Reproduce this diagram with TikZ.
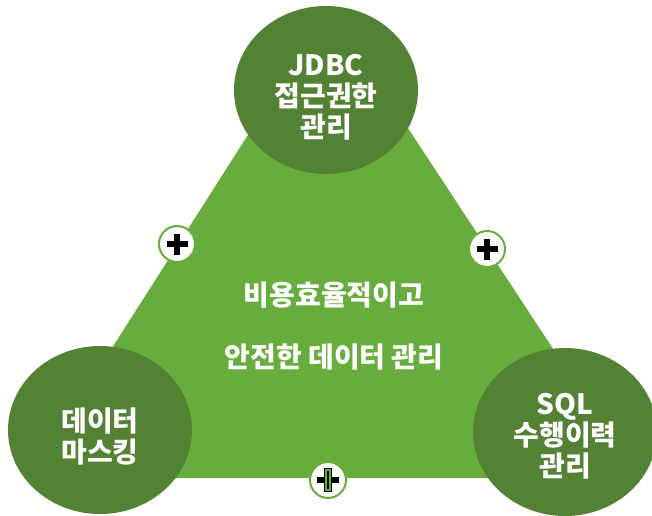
\documentclass[tikz,border=0pt]{standalone}
\usepackage{fontspec}
\setmainfont{Noto Sans CJK KR}
\usepackage{tikz}
\usetikzlibrary{shapes.geometric, positioning, calc}

\definecolor{trigreen}{HTML}{67AD3D}
\definecolor{darkgreen}{HTML}{548235}

\begin{document}
\begin{tikzpicture}[x=1pt,y=-1pt,
    bubble/.style={ellipse,fill=darkgreen,minimum width=184pt,minimum height=168pt,inner sep=0pt},
    bubbletext/.style={text=white,align=center,font=\bfseries\fontsize{28}{31}\selectfont},
    plusring/.style={circle,draw=trigreen,line width=2pt,fill=white,minimum size=36pt,inner sep=0pt},
    plusbar/.style={line width=5.5pt,black}]
    \useasboundingbox (0,0) rectangle (652,515);
    % triangle
    \fill[trigreen] (329,8) -- (638,478) -- (29,478) -- cycle;
    \node[bubbletext] (goal1) at (334,295) {비용효율적이고};
    \node[bubbletext] (goal2) at (334,357) {안전한 데이터 관리};
    % three circles
    \node[bubble] (jdbc) at (326,90) {};
    \node[bubbletext] (jdbctext) at (326,97) {JDBC\\접근권한\\관리};
    \node[bubble] (mask) at (100,430) {};
    \node[bubbletext] (masktext) at (100,437) {데이터\\마스킹};
    \node[bubble] (sql) at (565,432) {};
    \node[bubbletext] (sqltext) at (565,436) {SQL\\수행이력\\관리};
    % plus marks
    \node[plusring] (plusL) at (177,244) {};
    \draw[plusbar] ([xshift=-10.5pt]plusL.center) -- ([xshift=10.5pt]plusL.center);
    \draw[plusbar] ([yshift=-10.5pt]plusL.center) -- ([yshift=10.5pt]plusL.center);
    \node[plusring] (plusR) at (487,249) {};
    \draw[plusbar] ([xshift=-10.5pt]plusR.center) -- ([xshift=10.5pt]plusR.center);
    \draw[plusbar] ([yshift=-10.5pt]plusR.center) -- ([yshift=10.5pt]plusR.center);
    \node[plusring] (plusB) at (328,480) {};
    \draw[plusbar] ([xshift=-11pt]plusB.center) -- ([xshift=11pt]plusB.center);
    \draw[fill=trigreen,draw=black,line width=1pt] ($(plusB.center)+(-3.5,-11.5)$) rectangle ($(plusB.center)+(3.5,11.5)$);
    \draw[black,line width=1.5pt] ([yshift=-9pt]plusB.center) -- ([yshift=9pt]plusB.center);
\end{tikzpicture}
\end{document}
